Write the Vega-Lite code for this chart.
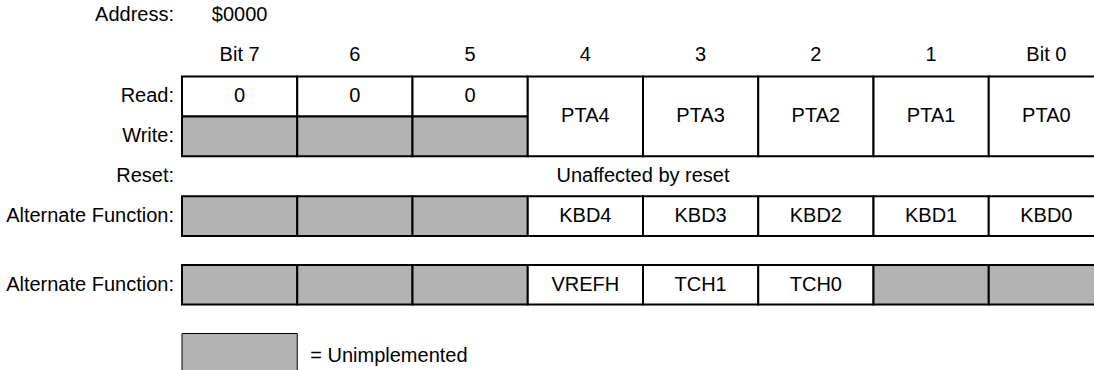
{
  "$schema": "https://vega.github.io/schema/vega-lite/v6.json",
  "width": 1094,
  "height": 370,
  "padding": 0,
  "autosize": {"type": "none"},
  "background": "white",
  "config": {
    "view": {"stroke": null},
    "text": {"font": "Liberation Sans", "fontSize": 20, "color": "black"}
  },
  "datasets": {
    "cells": [
      {"bit": "7", "r0": 0, "r1": 1, "rc": 0.5, "label": "0", "kind": "implemented"},
      {"bit": "6", "r0": 0, "r1": 1, "rc": 0.5, "label": "0", "kind": "implemented"},
      {"bit": "5", "r0": 0, "r1": 1, "rc": 0.5, "label": "0", "kind": "implemented"},
      {"bit": "7", "r0": 1, "r1": 2, "rc": 1.5, "label": "", "kind": "unimplemented"},
      {"bit": "6", "r0": 1, "r1": 2, "rc": 1.5, "label": "", "kind": "unimplemented"},
      {"bit": "5", "r0": 1, "r1": 2, "rc": 1.5, "label": "", "kind": "unimplemented"},
      {"bit": "4", "r0": 0, "r1": 2, "rc": 1, "label": "PTA4", "kind": "implemented"},
      {"bit": "3", "r0": 0, "r1": 2, "rc": 1, "label": "PTA3", "kind": "implemented"},
      {"bit": "2", "r0": 0, "r1": 2, "rc": 1, "label": "PTA2", "kind": "implemented"},
      {"bit": "1", "r0": 0, "r1": 2, "rc": 1, "label": "PTA1", "kind": "implemented"},
      {"bit": "0", "r0": 0, "r1": 2, "rc": 1, "label": "PTA0", "kind": "implemented"},
      {"bit": "7", "r0": 3, "r1": 4, "rc": 3.5, "label": "", "kind": "unimplemented"},
      {"bit": "6", "r0": 3, "r1": 4, "rc": 3.5, "label": "", "kind": "unimplemented"},
      {"bit": "5", "r0": 3, "r1": 4, "rc": 3.5, "label": "", "kind": "unimplemented"},
      {"bit": "4", "r0": 3, "r1": 4, "rc": 3.5, "label": "KBD4", "kind": "implemented"},
      {"bit": "3", "r0": 3, "r1": 4, "rc": 3.5, "label": "KBD3", "kind": "implemented"},
      {"bit": "2", "r0": 3, "r1": 4, "rc": 3.5, "label": "KBD2", "kind": "implemented"},
      {"bit": "1", "r0": 3, "r1": 4, "rc": 3.5, "label": "KBD1", "kind": "implemented"},
      {"bit": "0", "r0": 3, "r1": 4, "rc": 3.5, "label": "KBD0", "kind": "implemented"},
      {"bit": "7", "r0": 5, "r1": 6, "rc": 5.5, "label": "", "kind": "unimplemented"},
      {"bit": "6", "r0": 5, "r1": 6, "rc": 5.5, "label": "", "kind": "unimplemented"},
      {"bit": "5", "r0": 5, "r1": 6, "rc": 5.5, "label": "", "kind": "unimplemented"},
      {"bit": "4", "r0": 5, "r1": 6, "rc": 5.5, "label": "VREFH", "kind": "implemented"},
      {"bit": "3", "r0": 5, "r1": 6, "rc": 5.5, "label": "TCH1", "kind": "implemented"},
      {"bit": "2", "r0": 5, "r1": 6, "rc": 5.5, "label": "TCH0", "kind": "implemented"},
      {"bit": "1", "r0": 5, "r1": 6, "rc": 5.5, "label": "", "kind": "unimplemented"},
      {"bit": "0", "r0": 5, "r1": 6, "rc": 5.5, "label": "", "kind": "unimplemented"}
    ],
    "legendbox": [
      {"bit": "7", "r0": 7, "r1": 8, "kind": "unimplemented"}
    ],
    "rowlabels": [
      {"text": "Address:", "r": -1.5},
      {"text": "Read:", "r": 0.5},
      {"text": "Write:", "r": 1.5},
      {"text": "Reset:", "r": 2.5},
      {"text": "Alternate Function:", "r": 3.5},
      {"text": "Alternate Function:", "r": 5.5}
    ],
    "headers": [
      {"bit": "7", "text": "Bit 7", "r": -0.5},
      {"bit": "6", "text": "6", "r": -0.5},
      {"bit": "5", "text": "5", "r": -0.5},
      {"bit": "4", "text": "4", "r": -0.5},
      {"bit": "3", "text": "3", "r": -0.5},
      {"bit": "2", "text": "2", "r": -0.5},
      {"bit": "1", "text": "1", "r": -0.5},
      {"bit": "0", "text": "Bit 0", "r": -0.5},
      {"bit": "7", "text": "$0000", "r": -1.5}
    ],
    "spans": [
      {"bit": "4", "text": "Unaffected by reset", "r": 2.5}
    ],
    "legend": [
      {"bit": "6", "text": "= Unimplemented", "r": 7.55}
    ]
  },
  "layer": [
    {
      "data": {"name": "cells"},
      "mark": {"type": "rect", "stroke": "black", "strokeWidth": 2},
      "encoding": {
        "x": {"field": "bit", "type": "ordinal", "axis": null,
              "scale": {"domain": ["7", "6", "5", "4", "3", "2", "1", "0"], "range": [182, 1104], "paddingInner": 0, "paddingOuter": 0}},
        "y": {"field": "r0", "type": "quantitative", "axis": null,
              "scale": {"domain": [-1.5, -0.5, 0, 4, 5, 6, 7, 8], "range": [15, 55, 76.5, 236, 265, 304.5, 333.5, 373.5], "zero": false, "nice": false}},
        "y2": {"field": "r1"},
        "fill": {"field": "kind", "type": "nominal", "legend": null,
                 "scale": {"domain": ["implemented", "unimplemented"], "range": ["#ffffff", "#b3b3b3"]}}
      }
    },
    {
      "data": {"name": "legendbox"},
      "mark": {"type": "rect", "stroke": "black", "strokeWidth": 1},
      "encoding": {
        "x": {"field": "bit", "type": "ordinal", "axis": null,
              "scale": {"domain": ["7", "6", "5", "4", "3", "2", "1", "0"], "range": [182, 1104], "paddingInner": 0, "paddingOuter": 0}},
        "y": {"field": "r0", "type": "quantitative", "axis": null,
              "scale": {"domain": [-1.5, -0.5, 0, 4, 5, 6, 7, 8], "range": [15, 55, 76.5, 236, 265, 304.5, 333.5, 373.5], "zero": false, "nice": false}},
        "y2": {"field": "r1"},
        "fill": {"field": "kind", "type": "nominal", "legend": null,
                 "scale": {"domain": ["implemented", "unimplemented"], "range": ["#ffffff", "#b3b3b3"]}}
      }
    },
    {
      "data": {"name": "cells"},
      "transform": [{"filter": "datum.label !== ''"}],
      "mark": {"type": "text", "align": "center", "baseline": "middle"},
      "encoding": {
        "x": {"field": "bit", "type": "ordinal", "axis": null,
              "scale": {"domain": ["7", "6", "5", "4", "3", "2", "1", "0"], "range": [182, 1104], "paddingInner": 0, "paddingOuter": 0}},
        "y": {"field": "rc", "type": "quantitative", "axis": null,
              "scale": {"domain": [-1.5, -0.5, 0, 4, 5, 6, 7, 8], "range": [15, 55, 76.5, 236, 265, 304.5, 333.5, 373.5], "zero": false, "nice": false}},
        "text": {"field": "label"}
      }
    },
    {
      "data": {"name": "rowlabels"},
      "mark": {"type": "text", "align": "right", "baseline": "middle", "dx": -8},
      "encoding": {
        "x": {"datum": "7", "type": "ordinal", "bandPosition": 0, "axis": null,
              "scale": {"domain": ["7", "6", "5", "4", "3", "2", "1", "0"], "range": [182, 1104], "paddingInner": 0, "paddingOuter": 0}},
        "y": {"field": "r", "type": "quantitative", "axis": null,
              "scale": {"domain": [-1.5, -0.5, 0, 4, 5, 6, 7, 8], "range": [15, 55, 76.5, 236, 265, 304.5, 333.5, 373.5], "zero": false, "nice": false}},
        "text": {"field": "text"}
      }
    },
    {
      "data": {"name": "headers"},
      "mark": {"type": "text", "align": "center", "baseline": "middle"},
      "encoding": {
        "x": {"field": "bit", "type": "ordinal", "axis": null,
              "scale": {"domain": ["7", "6", "5", "4", "3", "2", "1", "0"], "range": [182, 1104], "paddingInner": 0, "paddingOuter": 0}},
        "y": {"field": "r", "type": "quantitative", "axis": null,
              "scale": {"domain": [-1.5, -0.5, 0, 4, 5, 6, 7, 8], "range": [15, 55, 76.5, 236, 265, 304.5, 333.5, 373.5], "zero": false, "nice": false}},
        "text": {"field": "text"}
      }
    },
    {
      "data": {"name": "spans"},
      "mark": {"type": "text", "align": "center", "baseline": "middle"},
      "encoding": {
        "x": {"field": "bit", "type": "ordinal", "bandPosition": 1, "axis": null,
              "scale": {"domain": ["7", "6", "5", "4", "3", "2", "1", "0"], "range": [182, 1104], "paddingInner": 0, "paddingOuter": 0}},
        "y": {"field": "r", "type": "quantitative", "axis": null,
              "scale": {"domain": [-1.5, -0.5, 0, 4, 5, 6, 7, 8], "range": [15, 55, 76.5, 236, 265, 304.5, 333.5, 373.5], "zero": false, "nice": false}},
        "text": {"field": "text"}
      }
    },
    {
      "data": {"name": "legend"},
      "mark": {"type": "text", "align": "left", "baseline": "middle", "dx": 13},
      "encoding": {
        "x": {"field": "bit", "type": "ordinal", "bandPosition": 0, "axis": null,
              "scale": {"domain": ["7", "6", "5", "4", "3", "2", "1", "0"], "range": [182, 1104], "paddingInner": 0, "paddingOuter": 0}},
        "y": {"field": "r", "type": "quantitative", "axis": null,
              "scale": {"domain": [-1.5, -0.5, 0, 4, 5, 6, 7, 8], "range": [15, 55, 76.5, 236, 265, 304.5, 333.5, 373.5], "zero": false, "nice": false}},
        "text": {"field": "text"}
      }
    }
  ]
}
